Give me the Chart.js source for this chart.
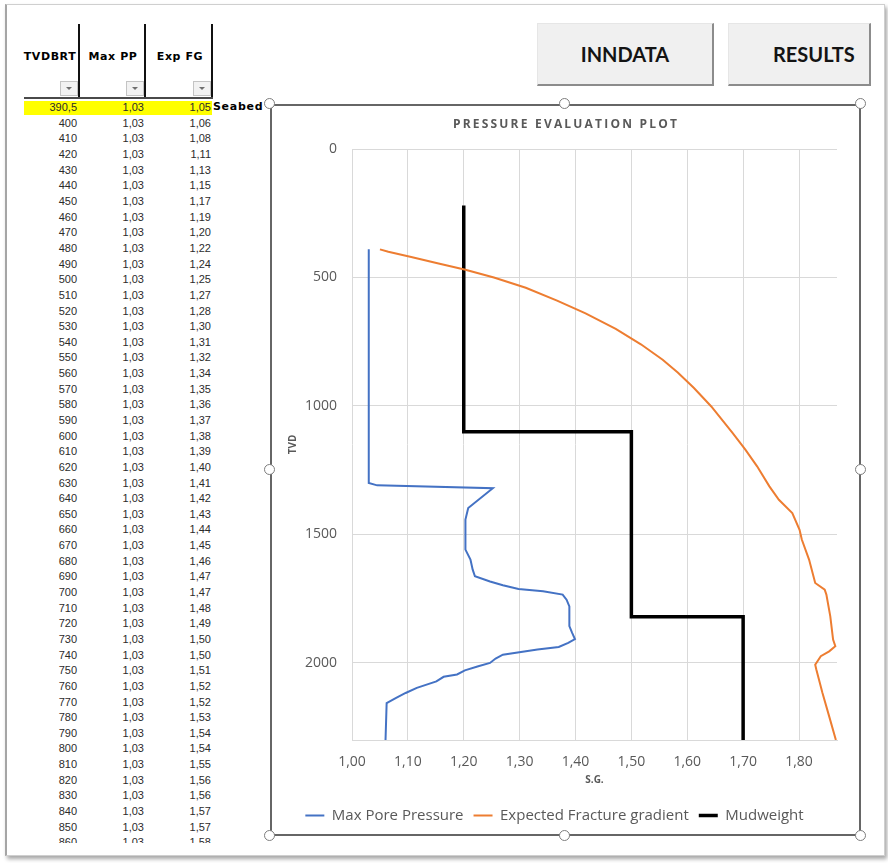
<!DOCTYPE html>
<html>
<head>
<meta charset="utf-8">
<script src="https://cdn.jsdelivr.net/npm/chart.js@4.4.1/dist/chart.umd.min.js"></script>
<style>
  html, body { margin: 0; padding: 0; background: #fff; }
  body { width: 888px; height: 863px; position: relative; overflow: hidden; font-family: "Liberation Sans", Arial, sans-serif; }
  .abs { position: absolute; }
  #win { left: 5px; top: 4px; width: 877px; height: 850px; border: 1px solid #cfcfcf; border-left: 2px solid #a5a5a5; box-shadow: 2px 3px 4px rgba(0,0,0,.35); background: #fff; }
  #sheet { left: 0; top: 0; width: 268px; height: 843px; overflow: hidden; }
  .hdr { top: 50px; height: 16px; line-height: 16px; font: bold 11px "DejaVu Sans", sans-serif; letter-spacing: 0.6px; color: #000; text-align: center; }
  .vline { top: 24px; width: 2px; height: 74px; background: #111; }
  .filt { top: 81px; width: 16px; height: 13px; background: #f2f2f2; border: 1px solid #c4c4c4; }
  .filt::after { content: ""; position: absolute; left: 5px; top: 5px; border-left: 3px solid transparent; border-right: 3px solid transparent; border-top: 3px solid #6f6f6f; }
  .row { left: 0; width: 268px; height: 15.64px; line-height: 15.64px; font-size: 11px; color: #2b2b2b; }
  .cell { position: absolute; top: 0; text-align: right; }
  .btn { top: 23px; height: 60px; background: #f0f0f0; border-top: 1px solid #e6e6e6; border-left: 1px solid #e6e6e6; border-right: 2px solid #8c8c8c; border-bottom: 2px solid #8c8c8c; font: bold 20px Lato, sans-serif; color: #141414; }
  #frame { left: 270px; top: 104px; width: 587px; height: 728px; border: 2px solid #666; }
  .handle { width: 9px; height: 9px; border-radius: 50%; background: #fff; border: 1.5px solid #7d7d7d; }
</style>
</head>
<body>
<div id="win" class="abs"></div>

<div id="sheet" class="abs">
  <div class="abs hdr" style="left:22px;width:56px;">TVDBRT</div>
  <div class="abs hdr" style="left:84px;width:58px;">Max PP</div>
  <div class="abs hdr" style="left:151px;width:58px;">Exp FG</div>
  <div class="abs vline" style="left:78px;"></div>
  <div class="abs vline" style="left:144px;"></div>
  <div class="abs vline" style="left:211px;"></div>
  <div class="abs filt" style="left:60px;"></div>
  <div class="abs filt" style="left:126px;"></div>
  <div class="abs filt" style="left:193px;"></div>
  <div class="abs" style="left:24px;top:97px;width:189px;height:2px;background:#4a4a4a;"></div>
  <div class="abs" style="left:24px;top:101px;width:188px;height:14px;background:#ffff00;"></div>
  <div class="abs" style="left:213px;top:100px;height:16px;line-height:16px;font:bold 11px 'DejaVu Sans',sans-serif;letter-spacing:0.7px;color:#000;">Seabed</div>
  <div id="rows"></div>
</div>

<div class="abs btn" style="left:537px;width:174px;">
  <span class="abs" style="left:0;width:174px;top:0;line-height:60px;text-align:center;">INNDATA</span>
</div>
<div class="abs btn" style="left:728px;width:140px;overflow:hidden;">
  <span class="abs" style="left:44px;top:0;line-height:60px;white-space:nowrap;">RESULTS</span>
</div>

<div id="frame" class="abs"></div>
<div class="abs" style="left:272px;top:106px;width:586px;height:727px;">
  <canvas id="chart" width="586" height="727"></canvas>
</div>
<div id="handles"></div>

<script>
// table rows (sheet on the left)
const tableTVD = [390.5, 400, 410, 420, 430, 440, 450, 460, 470, 480, 490, 500, 510, 520, 530, 540, 550, 560, 570, 580, 590, 600,
  610, 620, 630, 640, 650, 660, 670, 680, 690, 700, 710, 720, 730, 740, 750, 760, 770, 780, 790, 800, 810, 820, 830, 840, 850, 860];
const tableMaxPP = [1.03, 1.03, 1.03, 1.03, 1.03, 1.03, 1.03, 1.03, 1.03, 1.03, 1.03, 1.03, 1.03, 1.03, 1.03, 1.03, 1.03, 1.03, 1.03, 1.03, 1.03, 1.03,
  1.03, 1.03, 1.03, 1.03, 1.03, 1.03, 1.03, 1.03, 1.03, 1.03, 1.03, 1.03, 1.03, 1.03, 1.03, 1.03, 1.03, 1.03, 1.03, 1.03, 1.03, 1.03, 1.03, 1.03, 1.03, 1.03];
const tableExpFG = [1.05, 1.06, 1.08, 1.11, 1.13, 1.15, 1.17, 1.19, 1.20, 1.22, 1.24, 1.25, 1.27, 1.28, 1.30, 1.31, 1.32, 1.34, 1.35, 1.36, 1.37, 1.38,
  1.39, 1.40, 1.41, 1.42, 1.43, 1.44, 1.45, 1.46, 1.47, 1.47, 1.48, 1.49, 1.50, 1.50, 1.51, 1.52, 1.52, 1.53, 1.54, 1.54, 1.55, 1.56, 1.56, 1.57, 1.57, 1.58];

// Max pore pressure curve
const ppDepth = [390.5, 1300, 1309, 1320, 1397, 1442, 1520, 1559, 1598, 1637, 1663, 1683, 1698, 1712, 1721, 1734, 1754, 1780, 1857, 1883,
  1907, 1922, 1938, 1948, 1968, 1983, 2000, 2013, 2029, 2045, 2054, 2072, 2097, 2117, 2136, 2156, 2300];
const ppSG = [1.03, 1.03, 1.045, 1.252, 1.208, 1.203, 1.203, 1.203, 1.212, 1.216, 1.22, 1.247, 1.27, 1.298, 1.342, 1.377, 1.384, 1.389, 1.389, 1.394,
  1.399, 1.387, 1.37, 1.332, 1.27, 1.257, 1.247, 1.226, 1.202, 1.188, 1.164, 1.151, 1.116, 1.096, 1.079, 1.062, 1.06];

// Expected fracture gradient curve as plotted (unrounded, smooth)
const fgDepth = [390.5, 400, 420, 445, 470, 500, 540, 590, 640, 700, 760, 820, 870, 930, 1002, 1105, 1170, 1235, 1313, 1365, 1417, 1482,
  1520, 1598, 1689, 1715, 1734, 1819, 1909, 1935, 1955, 1974, 2007, 2026, 2117, 2208, 2300];
const fgSG = [1.05, 1.065, 1.106, 1.153, 1.203, 1.254, 1.311, 1.367, 1.418, 1.472, 1.517, 1.556, 1.583, 1.612, 1.643, 1.681, 1.704, 1.725, 1.747, 1.764, 1.788, 1.801,
  1.805, 1.818, 1.829, 1.846, 1.849, 1.856, 1.861, 1.865, 1.854, 1.839, 1.829, 1.831, 1.842, 1.854, 1.866];

// mudweight steps
const mwDepth = [220, 1100, 1100, 1820, 1820, 2300];
const mwSG = [1.20, 1.20, 1.50, 1.50, 1.70, 1.70];

const xTicks = [1.00, 1.10, 1.20, 1.30, 1.40, 1.50, 1.60, 1.70, 1.80];
const yTicks = [0, 500, 1000, 1500, 2000];

const comma = (v, d) => v.toFixed(d).replace('.', ',');

// build the sheet rows
const rowsEl = document.getElementById('rows');
tableTVD.forEach((d, i) => {
  const row = document.createElement('div');
  row.className = 'abs row';
  row.style.top = (100.2 + i * 15.64) + 'px';
  const tvd = Number.isInteger(d) ? String(d) : comma(d, 1);
  row.innerHTML =
    '<span class="cell" style="right:191px">' + tvd + '</span>' +
    '<span class="cell" style="right:124px">' + comma(tableMaxPP[i], 2) + '</span>' +
    '<span class="cell" style="right:57px">' + comma(tableExpFG[i], 2) + '</span>';
  rowsEl.appendChild(row);
});

// selection handles round the chart object
[[270, 104], [565, 104], [861, 104], [270, 470], [861, 470], [270, 836], [565, 836], [861, 836]].forEach(([x, y]) => {
  const h = document.createElement('div');
  h.className = 'abs handle';
  h.style.left = (x - 6) + 'px';
  h.style.top = (y - 6) + 'px';
  document.getElementById('handles').appendChild(h);
});

const toPoints = (depth, sg) => depth.map((d, i) => ({ x: sg[i], y: d }));

const grey = '#595959';
const gridGrey = '#d9d9d9';

function lineSet(label, depth, sg, color, width) {
  return {
    label,
    data: toPoints(depth, sg),
    showLine: true,
    borderColor: color,
    backgroundColor: color,
    borderWidth: width,
    pointRadius: 0,
    pointStyle: 'line',
    pointBorderColor: color,
    pointBorderWidth: width,
    tension: 0
  };
}

// chart title, letter spaced like the Excel one
const titleText = {
  id: 'titleText',
  afterDraw(chart) {
    const c = chart.ctx;
    c.save();
    c.font = 'bold 12px "Open Sans"';
    c.fillStyle = grey;
    c.textAlign = 'center';
    c.textBaseline = 'middle';
    c.letterSpacing = '2.2px';
    c.fillText('PRESSURE EVALUATION PLOT', chart.width / 2 + 1, 19);
    c.restore();
  }
};

new Chart(document.getElementById('chart').getContext('2d'), {
  type: 'scatter',
  data: {
    datasets: [
      lineSet('Max Pore Pressure', ppDepth, ppSG, '#4472c4', 2),
      lineSet('Expected Fracture gradient', fgDepth, fgSG, '#ed7d31', 2),
      lineSet('Mudweight', mwDepth, mwSG, '#000000', 3.5)
    ]
  },
  options: {
    responsive: false,
    animation: false,
    events: [],
    layout: { padding: { top: 43, right: 21, left: 0, bottom: 0 } },
    scales: {
      x: {
        type: 'linear',
        position: 'bottom',
        min: 1,
        max: 1.868,
        afterFit: s => { s.height = 58; },
        afterBuildTicks: s => { s.ticks = xTicks.map(v => ({ value: v })); },
        ticks: {
          callback: v => comma(v, 2),
          color: grey,
          font: { family: 'Open Sans', size: 14 },
          padding: 14,
          maxRotation: 0,
          autoSkip: false
        },
        grid: { color: gridGrey, drawTicks: false },
        border: { display: true, color: gridGrey },
        title: {
          display: true,
          text: 'S.G.',
          color: grey,
          font: { family: 'Open Sans', size: 10, weight: 'bold' },
          padding: { top: 0, bottom: 12 }
        }
      },
      y: {
        type: 'linear',
        reverse: true,
        min: 0,
        max: 2300,
        afterFit: s => { s.width = 80; },
        afterBuildTicks: s => { s.ticks = yTicks.map(v => ({ value: v })); },
        ticks: {
          callback: v => String(v),
          color: grey,
          font: { family: 'Open Sans', size: 14 },
          padding: 15
        },
        grid: { color: gridGrey, drawTicks: false },
        border: { display: false },
        title: {
          display: true,
          text: 'TVD',
          color: grey,
          font: { family: 'Open Sans', size: 10, weight: 'bold' },
          padding: { top: 15, bottom: 0 }
        }
      }
    },
    plugins: {
      title: { display: false },
      tooltip: { enabled: false },
      legend: {
        position: 'bottom',
        labels: {
          usePointStyle: true,
          pointStyleWidth: 19,
          padding: 10,
          color: grey,
          font: { family: 'Open Sans', size: 15 }
        }
      }
    }
  },
  plugins: [titleText]
});
</script>
</body>
</html>
